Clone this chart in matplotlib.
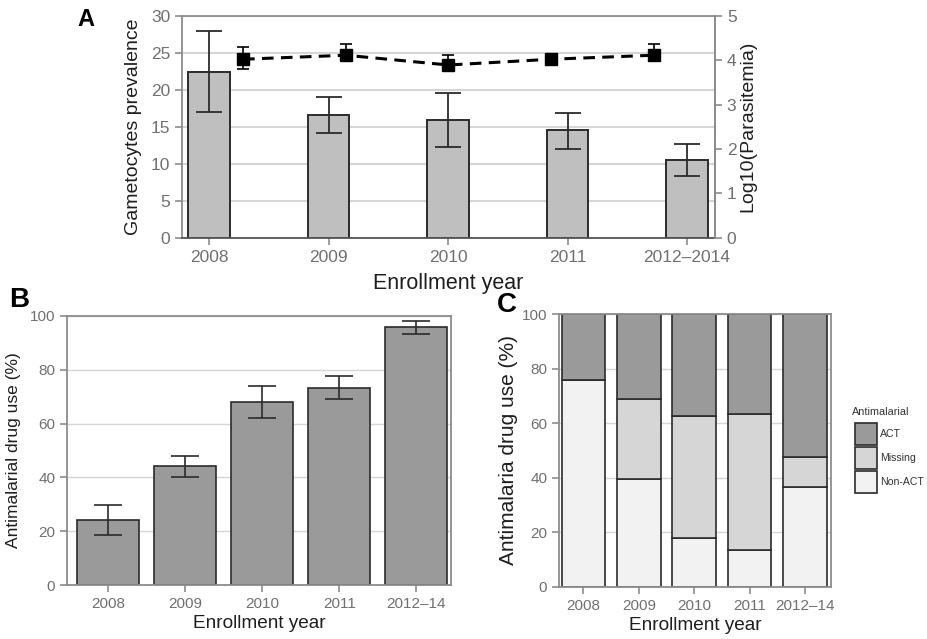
import numpy as np
import matplotlib.pyplot as plt
from matplotlib.patches import Rectangle

plt.rcParams['font.family'] = ['Liberation Sans', 'DejaVu Sans']

# Panel A data
years_a = ['2008', '2009', '2010', '2011', '2012\u20132014']
gam_prev = [22.4, 16.6, 15.9, 14.5, 10.5]
gam_low = [17.0, 14.2, 12.3, 12.0, 8.3]
gam_high = [28.0, 19.0, 19.5, 16.9, 12.7]
log_para = [4.02, 4.11, 3.89, 4.02, 4.11]
log_para_low = [3.80, 4.03, 3.83, 3.97, 4.05]
log_para_high = [4.30, 4.36, 4.11, 4.08, 4.36]

# Panel B data
years_bc = ['2008', '2009', '2010', '2011', '2012\u201314']
drug_use = [24.3, 44.3, 68.0, 73.4, 95.8]
drug_low = [18.5, 40.3, 62.0, 69.2, 93.2]
drug_high = [29.8, 47.8, 74.0, 77.8, 98.2]

# Panel C data (stacked %)
non_act = [76.0, 39.5, 17.8, 13.5, 36.5]
missing = [0.0, 29.5, 44.9, 49.7, 11.0]
act = [24.0, 31.0, 37.3, 36.8, 52.5]
legend_labels = ['ACT', 'Missing', 'Non-ACT']
legend_colors = ['#9a9a9a', '#d6d6d6', '#f2f2f2']

tick_col = '#707070'
spine_col = '#8c8c8c'
grid_col = '#d6d6d6'
edge_col = '#2b2b2b'
label_col = '#1e1e1e'

fig = plt.figure(figsize=(9.28, 6.39), dpi=100)


def style_axes(ax, fs):
    for s in ax.spines.values():
        s.set_color(spine_col)
        s.set_linewidth(1.3)
    ax.tick_params(colors=spine_col, labelcolor=tick_col, labelsize=fs,
                   length=5, width=1.2, direction='out')
    ax.set_axisbelow(True)


# ---------- Panel A ----------
rect_a = [0.1961, 0.628, 0.5744, 0.3474]
ax_a = fig.add_axes(rect_a)
x_a = np.arange(len(years_a))
err_a = [np.subtract(gam_prev, gam_low), np.subtract(gam_high, gam_prev)]
ax_a.bar(x_a, gam_prev, width=0.35, color='#bfbfbf', edgecolor=edge_col,
         linewidth=1.4, zorder=2)
ax_a.errorbar(x_a, gam_prev, yerr=err_a, fmt='none', ecolor=edge_col,
              elinewidth=1.3, capsize=9.5, capthick=1.3, zorder=3)
ax_a.set_xlim(-0.226, 4.234)
ax_a.set_ylim(0, 30)
ax_a.set_yticks(range(0, 31, 5))
ax_a.set_xticks(x_a)
ax_a.set_xticklabels(years_a)
ax_a.yaxis.grid(True, color=grid_col, linewidth=1.5)
style_axes(ax_a, 12.5)
ax_a.spines['bottom'].set_color('#555555')
ax_a.set_ylabel('Gametocytes prevalence', fontsize=14, color=label_col, labelpad=6)
ax_a.set_xlabel('Enrollment year', fontsize=15.5, color=label_col, labelpad=6)

ax_p = fig.add_axes(rect_a, facecolor='none')
xp = np.arange(1, len(log_para) + 1)
err_p = [np.subtract(log_para, log_para_low), np.subtract(log_para_high, log_para)]
ax_p.errorbar(xp, log_para, yerr=err_p, fmt='none', ecolor='black',
              elinewidth=1.2, capsize=4, capthick=1.2, zorder=3)
ax_p.plot(xp, log_para, color='black', linestyle=(0, (3.8, 2.4)), linewidth=2.2,
          marker='s', markersize=8, zorder=4)
ax_p.set_xlim(0.405, 5.597)
ax_p.set_ylim(0, 5)
ax_p.set_xticks([])
ax_p.yaxis.tick_right()
ax_p.yaxis.set_label_position('right')
ax_p.set_yticks(range(0, 6))
style_axes(ax_p, 12.5)
for k in ['left', 'top', 'bottom']:
    ax_p.spines[k].set_visible(False)
ax_p.set_ylabel('Log10(Parasitemia)', fontsize=14, color=label_col, labelpad=2)

# ---------- Panel B ----------
ax_b = fig.add_axes([0.0722, 0.0845, 0.4138, 0.421])
x_b = np.arange(len(years_bc))
err_b = [np.subtract(drug_use, drug_low), np.subtract(drug_high, drug_use)]
ax_b.bar(x_b, drug_use, width=0.8, color='#9a9a9a', edgecolor=edge_col,
         linewidth=1.2, zorder=2)
ax_b.errorbar(x_b, drug_use, yerr=err_b, fmt='none', ecolor=edge_col,
              elinewidth=1.2, capsize=10, capthick=1.2, zorder=3)
ax_b.set_xlim(-0.53, 4.45)
ax_b.set_ylim(0, 100)
ax_b.set_yticks(range(0, 101, 20))
ax_b.set_xticks(x_b)
ax_b.set_xticklabels(years_bc)
ax_b.yaxis.grid(True, color=grid_col, linewidth=1.0)
style_axes(ax_b, 11)
ax_b.set_ylabel('Antimalarial drug use (%)', fontsize=12.5, color=label_col, labelpad=6)
ax_b.set_xlabel('Enrollment year', fontsize=13.7, color=label_col, labelpad=3)

# ---------- Panel C ----------
ax_c = fig.add_axes([0.6024, 0.0814, 0.2931, 0.4272])
x_c = np.arange(len(years_bc))
w_c = 0.785
ax_c.bar(x_c, non_act, width=w_c, color=legend_colors[2], edgecolor=edge_col,
         linewidth=1.2, zorder=2)
ax_c.bar(x_c, missing, bottom=non_act, width=w_c, color=legend_colors[1],
         edgecolor=edge_col, linewidth=1.2, zorder=2)
ax_c.bar(x_c, act, bottom=np.add(non_act, missing), width=w_c, color=legend_colors[0],
         edgecolor=edge_col, linewidth=1.2, zorder=2)
ax_c.set_xlim(-0.44, 4.47)
ax_c.set_ylim(0, 100)
ax_c.set_yticks(range(0, 101, 20))
ax_c.set_xticks(x_c)
ax_c.set_xticklabels(years_bc)
ax_c.yaxis.grid(True, color=grid_col, linewidth=1.0)
style_axes(ax_c, 11)
ax_c.set_ylabel('Antimalaria drug use (%)', fontsize=15, color=label_col, labelpad=3)
ax_c.set_xlabel('Enrollment year', fontsize=13.7, color=label_col, labelpad=3)

# legend drawn by hand so labels sit centred on the square keys
W, H = 928.0, 639.0
fig.text(852 / W, 1 - 412 / H, 'Antimalarial', fontsize=7.8, color='#333333',
         ha='left', va='center')
for i, (lab, col) in enumerate(zip(legend_labels, legend_colors)):
    top = 423 + i * 24
    fig.patches.append(Rectangle((855 / W, 1 - (top + 22) / H), 22 / W, 22 / H,
                                 transform=fig.transFigure, facecolor=col,
                                 edgecolor=edge_col, linewidth=1.2))
    fig.text(880 / W, 1 - (top + 11) / H, lab, fontsize=7.6, color='#333333',
             ha='left', va='center')

# panel letters
fig.text(0.083, 0.97, 'A', fontsize=17, fontweight='bold', ha='left', va='center')
fig.text(0.010, 0.53, 'B', fontsize=20, fontweight='bold', ha='left', va='center')
fig.text(0.535, 0.523, 'C', fontsize=20, fontweight='bold', ha='left', va='center')

fig.savefig('out.png', dpi=100)
